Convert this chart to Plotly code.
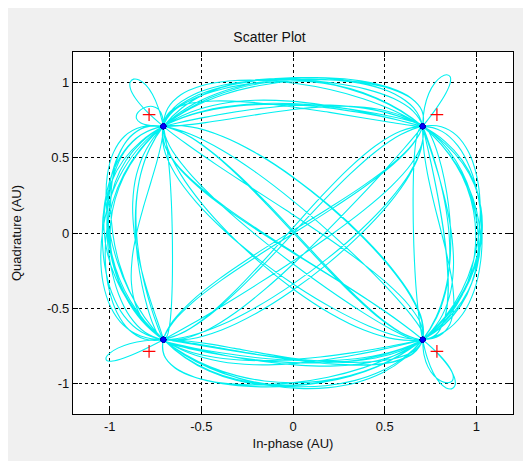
import numpy as np
import plotly.graph_objects as go

# QPSK symbol sequence (in-phase / quadrature signs)
SYM_I = [1, 1, -1, -1, -1, 1, 1, 1, -1, 1, -1, -1, 1, -1, 1, 1, -1, -1, -1, -1,
         1, -1, 1, 1, 1, -1, -1, 1, -1, 1, -1, -1, 1, 1, -1, 1, 1, -1, -1, 1,
         1, 1, -1, -1, 1, -1, -1, -1, 1, 1, -1, 1, -1, -1, 1, 1, 1, -1, 1, -1,
         -1, 1, 1, -1, -1, -1, 1, -1, 1, 1, -1, -1, 1, 1, 1, 1, -1, 1, -1, -1,
         1, -1, -1, 1, 1, -1, 1, 1, -1, -1, 1, -1, 1, 1, -1, -1, 1, -1, 1, 1]
SYM_Q = [1, -1, -1, 1, 1, 1, -1, -1, 1, 1, -1, 1, -1, -1, -1, 1, 1, -1, 1, 1,
         -1, -1, -1, 1, -1, -1, 1, 1, 1, -1, 1, -1, -1, 1, 1, 1, -1, -1, 1, -1,
         1, -1, 1, -1, -1, -1, 1, 1, 1, -1, -1, -1, 1, -1, 1, 1, -1, 1, 1, -1,
         -1, -1, 1, 1, -1, 1, 1, -1, -1, 1, 1, -1, -1, 1, -1, -1, 1, 1, -1, 1,
         1, 1, -1, -1, 1, 1, -1, 1, -1, 1, 1, -1, -1, 1, -1, 1, 1, -1, -1, 1]
AMP = 0.7071          # constellation amplitude
ROLLOFF = 0.5         # raised-cosine roll-off
SPS = 10              # samples per symbol
SPAN = 6              # filter half-span in symbols

# reference constellation markers
REF_I = [-0.785, 0.785, -0.785, 0.785]
REF_Q = [0.785, 0.785, -0.785, -0.785]

TICKS = [-1, -0.5, 0, 0.5, 1]
TICK_TEXT = ["-1", "-0.5", "0", "0.5", "1"]

FONT = "Liberation Sans, Arial, sans-serif"


def rc(t, b):
    t = np.asarray(t, dtype=float)
    den = 1 - (2 * b * t) ** 2
    sing = np.abs(den) < 1e-9
    out = np.sinc(t) * np.cos(np.pi * b * t) / np.where(sing, 1, den)
    out[sing] = (np.pi / 4) * np.sinc(1 / (2 * b))
    return out


a_i = np.array(SYM_I, float) * AMP
a_q = np.array(SYM_Q, float) * AMP
n = len(a_i)
t = np.arange(SPAN * SPS, (n - SPAN) * SPS + 1) / SPS
wi = np.zeros_like(t)
wq = np.zeros_like(t)
for k in range(n):
    h = rc(t - k, ROLLOFF)
    wi += a_i[k] * h
    wq += a_q[k] * h

sym_idx = np.arange(0, len(t), SPS)

fig = go.Figure()
fig.add_trace(go.Scatter(x=wi, y=wq, mode="lines",
                         line=dict(color="#00f0f0", width=1.1, shape="spline"),
                         hoverinfo="skip", showlegend=False))
fig.add_trace(go.Scatter(x=wi[sym_idx], y=wq[sym_idx], mode="markers",
                         marker=dict(color="#0000ff", size=5,
                                     line=dict(color="#0000aa", width=0.5)),
                         showlegend=False))
fig.add_trace(go.Scatter(x=REF_I, y=REF_Q, mode="markers",
                         marker=dict(symbol="cross-thin", size=9,
                                     line=dict(color="#ff0000", width=1.2)),
                         showlegend=False))

axis_common = dict(
    showgrid=True, gridcolor="#000000", gridwidth=1, griddash="3px,3px",
    zeroline=False, showline=True, linecolor="#000000", linewidth=1.2,
    mirror="ticks", ticks="inside", ticklen=5, tickcolor="#000000",
    tickvals=TICKS, ticktext=TICK_TEXT, automargin=False,
    tickfont=dict(family=FONT, size=13, color="#111111"),
)

fig.update_layout(
    width=523, height=453,
    margin=dict(l=65, r=18, t=44, b=47),
    paper_bgcolor="#f0f0f0", plot_bgcolor="#ffffff",
    title=dict(text="Scatter Plot", x=0.5, xanchor="center", y=1 - 29 / 453,
               yanchor="middle", automargin=False,
               font=dict(family=FONT, size=14, color="#111111")),
    xaxis=dict(range=[-1.2, 1.2], title=dict(text="In-phase (AU)", standoff=6,
               font=dict(family=FONT, size=13, color="#111111")),
               **axis_common),
    yaxis=dict(range=[-1.2, 1.2], title=dict(text="Quadrature (AU)", standoff=22,
               font=dict(family=FONT, size=13, color="#111111")),
               **axis_common),
)

fig.write_html("out.html")
